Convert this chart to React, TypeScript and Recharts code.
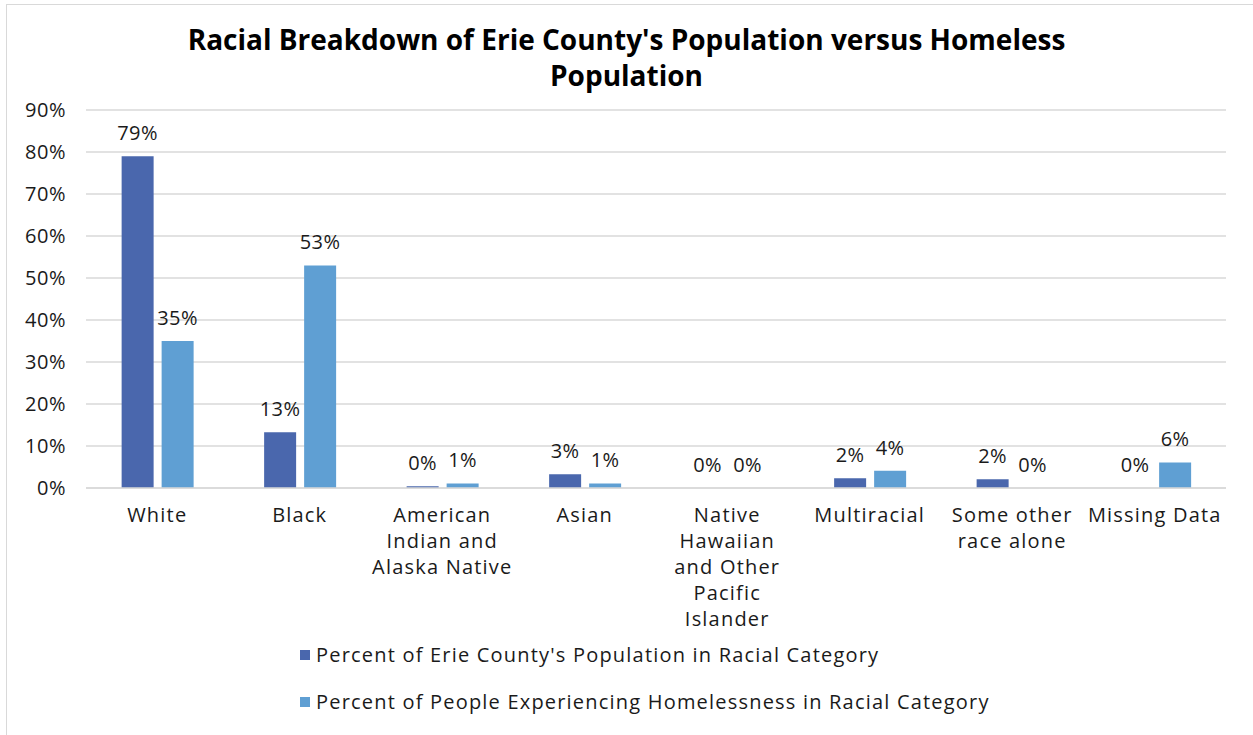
import React from 'react';
import { BarChart, Bar, XAxis, YAxis, CartesianGrid, Legend, LabelList } from 'recharts';

const categories = [
  'White',
  'Black',
  'American Indian and Alaska Native',
  'Asian',
  'Native Hawaiian and Other Pacific Islander',
  'Multiracial',
  'Some other race alone',
  'Missing Data',
];

// how Excel wrapped each category label
const categoryLines = [
  ['White'],
  ['Black'],
  ['American', 'Indian and', 'Alaska Native'],
  ['Asian'],
  ['Native', 'Hawaiian', 'and Other', 'Pacific', 'Islander'],
  ['Multiracial'],
  ['Some other', 'race alone'],
  ['Missing Data'],
];

const countyPct = [79, 13.3, 0.4, 3.3, 0, 2.3, 2.1, 0];
const homelessPct = [35, 53, 1.1, 1.1, 0, 4.1, 0, 6.1];

const yTicks = [0, 10, 20, 30, 40, 50, 60, 70, 80, 90];

const seriesNames = [
  "Percent of Erie County's Population in Racial Category",
  'Percent of People Experiencing Homelessness in Racial Category',
];

const DARK = '#4a67ad';
const LIGHT = '#5f9fd3';
const FONT = "'Open Sans', 'DejaVu Sans', sans-serif";
const TEXT = '#1a1a1a';
const SPACING = 1.2;

const data = categories.map((name, i) => ({
  name,
  county: countyPct[i],
  homeless: homelessPct[i],
}));

function CategoryTick({ x, y, payload }: any) {
  const lines = categoryLines[categories.indexOf(payload.value)] || [payload.value];
  return (
    <text
      x={x}
      y={y}
      textAnchor="middle"
      fill={TEXT}
      fontSize={20}
      fontFamily={FONT}
      letterSpacing={SPACING}
    >
      {lines.map((line, i) => (
        <tspan key={i} x={x} dy={i === 0 ? 20 : 26}>
          {line}
        </tspan>
      ))}
    </text>
  );
}

function LegendBox() {
  const colors = [DARK, LIGHT];
  return (
    <div style={{ fontFamily: FONT, fontSize: 20, color: TEXT, letterSpacing: SPACING }}>
      {seriesNames.map((name, i) => (
        <div key={name} style={{ height: 47, display: 'flex', alignItems: 'center' }}>
          <span style={{ width: 10, height: 10, background: colors[i], marginRight: 6, display: 'inline-block' }} />
          <span>{name}</span>
        </div>
      ))}
    </div>
  );
}

const pct = (v: any) => `${Math.round(Number(v))}%`;

export default function App() {
  return (
    <div
      style={{
        position: 'absolute',
        left: 0,
        top: 0,
        width: 1253,
        height: 735,
        background: '#fff',
        overflow: 'hidden',
        fontFamily: FONT,
      }}
    >
      <div
        style={{
          position: 'absolute',
          left: 6,
          top: 4,
          width: 1300,
          height: 800,
          border: '1.5px solid #d9d9d9',
        }}
      />
      <div
        style={{
          position: 'absolute',
          left: 0,
          top: 21,
          width: 1253,
          textAlign: 'center',
          fontWeight: 700,
          fontSize: 28,
          lineHeight: '36px',
          color: '#000',
        }}
      >
        Racial Breakdown of Erie County's Population versus Homeless
        <br />
        Population
      </div>
      <div style={{ position: 'absolute', left: 0, top: 0 }}>
        <BarChart
          width={1253}
          height={735}
          data={data}
          margin={{ top: 110, right: 27, left: 0, bottom: 10 }}
          barCategoryGap="25%"
          barGap={8}
        >
          <CartesianGrid vertical={false} stroke="#d9d9d9" strokeWidth={1.5} />
          <XAxis
            dataKey="name"
            interval={0}
            height={143}
            tickLine={false}
            tickSize={0}
            tickMargin={14}
            axisLine={{ stroke: '#d9d9d9', strokeWidth: 1.5 }}
            tick={<CategoryTick />}
          />
          <YAxis
            width={86}
            domain={[0, 90]}
            ticks={yTicks}
            tickFormatter={(v) => `${v}%`}
            axisLine={false}
            tickLine={false}
            tickSize={0}
            tickMargin={20}
            tick={{ fill: TEXT, fontSize: 20, fontFamily: FONT, letterSpacing: 0.5 }}
          />
          <Legend
            verticalAlign="bottom"
            content={<LegendBox />}
            wrapperStyle={{ left: 300, width: 900, height: 94 }}
          />
          <Bar dataKey="county" name={seriesNames[0]} fill={DARK} minPointSize={0.01} isAnimationActive={false}>
            <LabelList
              dataKey="county"
              position="top"
              offset={16}
              formatter={pct}
              fill={TEXT}
              fontSize={20}
              fontFamily={FONT}
              letterSpacing={0.5}
            />
          </Bar>
          <Bar dataKey="homeless" name={seriesNames[1]} fill={LIGHT} minPointSize={0.01} isAnimationActive={false}>
            <LabelList
              dataKey="homeless"
              position="top"
              offset={16}
              formatter={pct}
              fill={TEXT}
              fontSize={20}
              fontFamily={FONT}
              letterSpacing={0.5}
            />
          </Bar>
        </BarChart>
      </div>
    </div>
  );
}
